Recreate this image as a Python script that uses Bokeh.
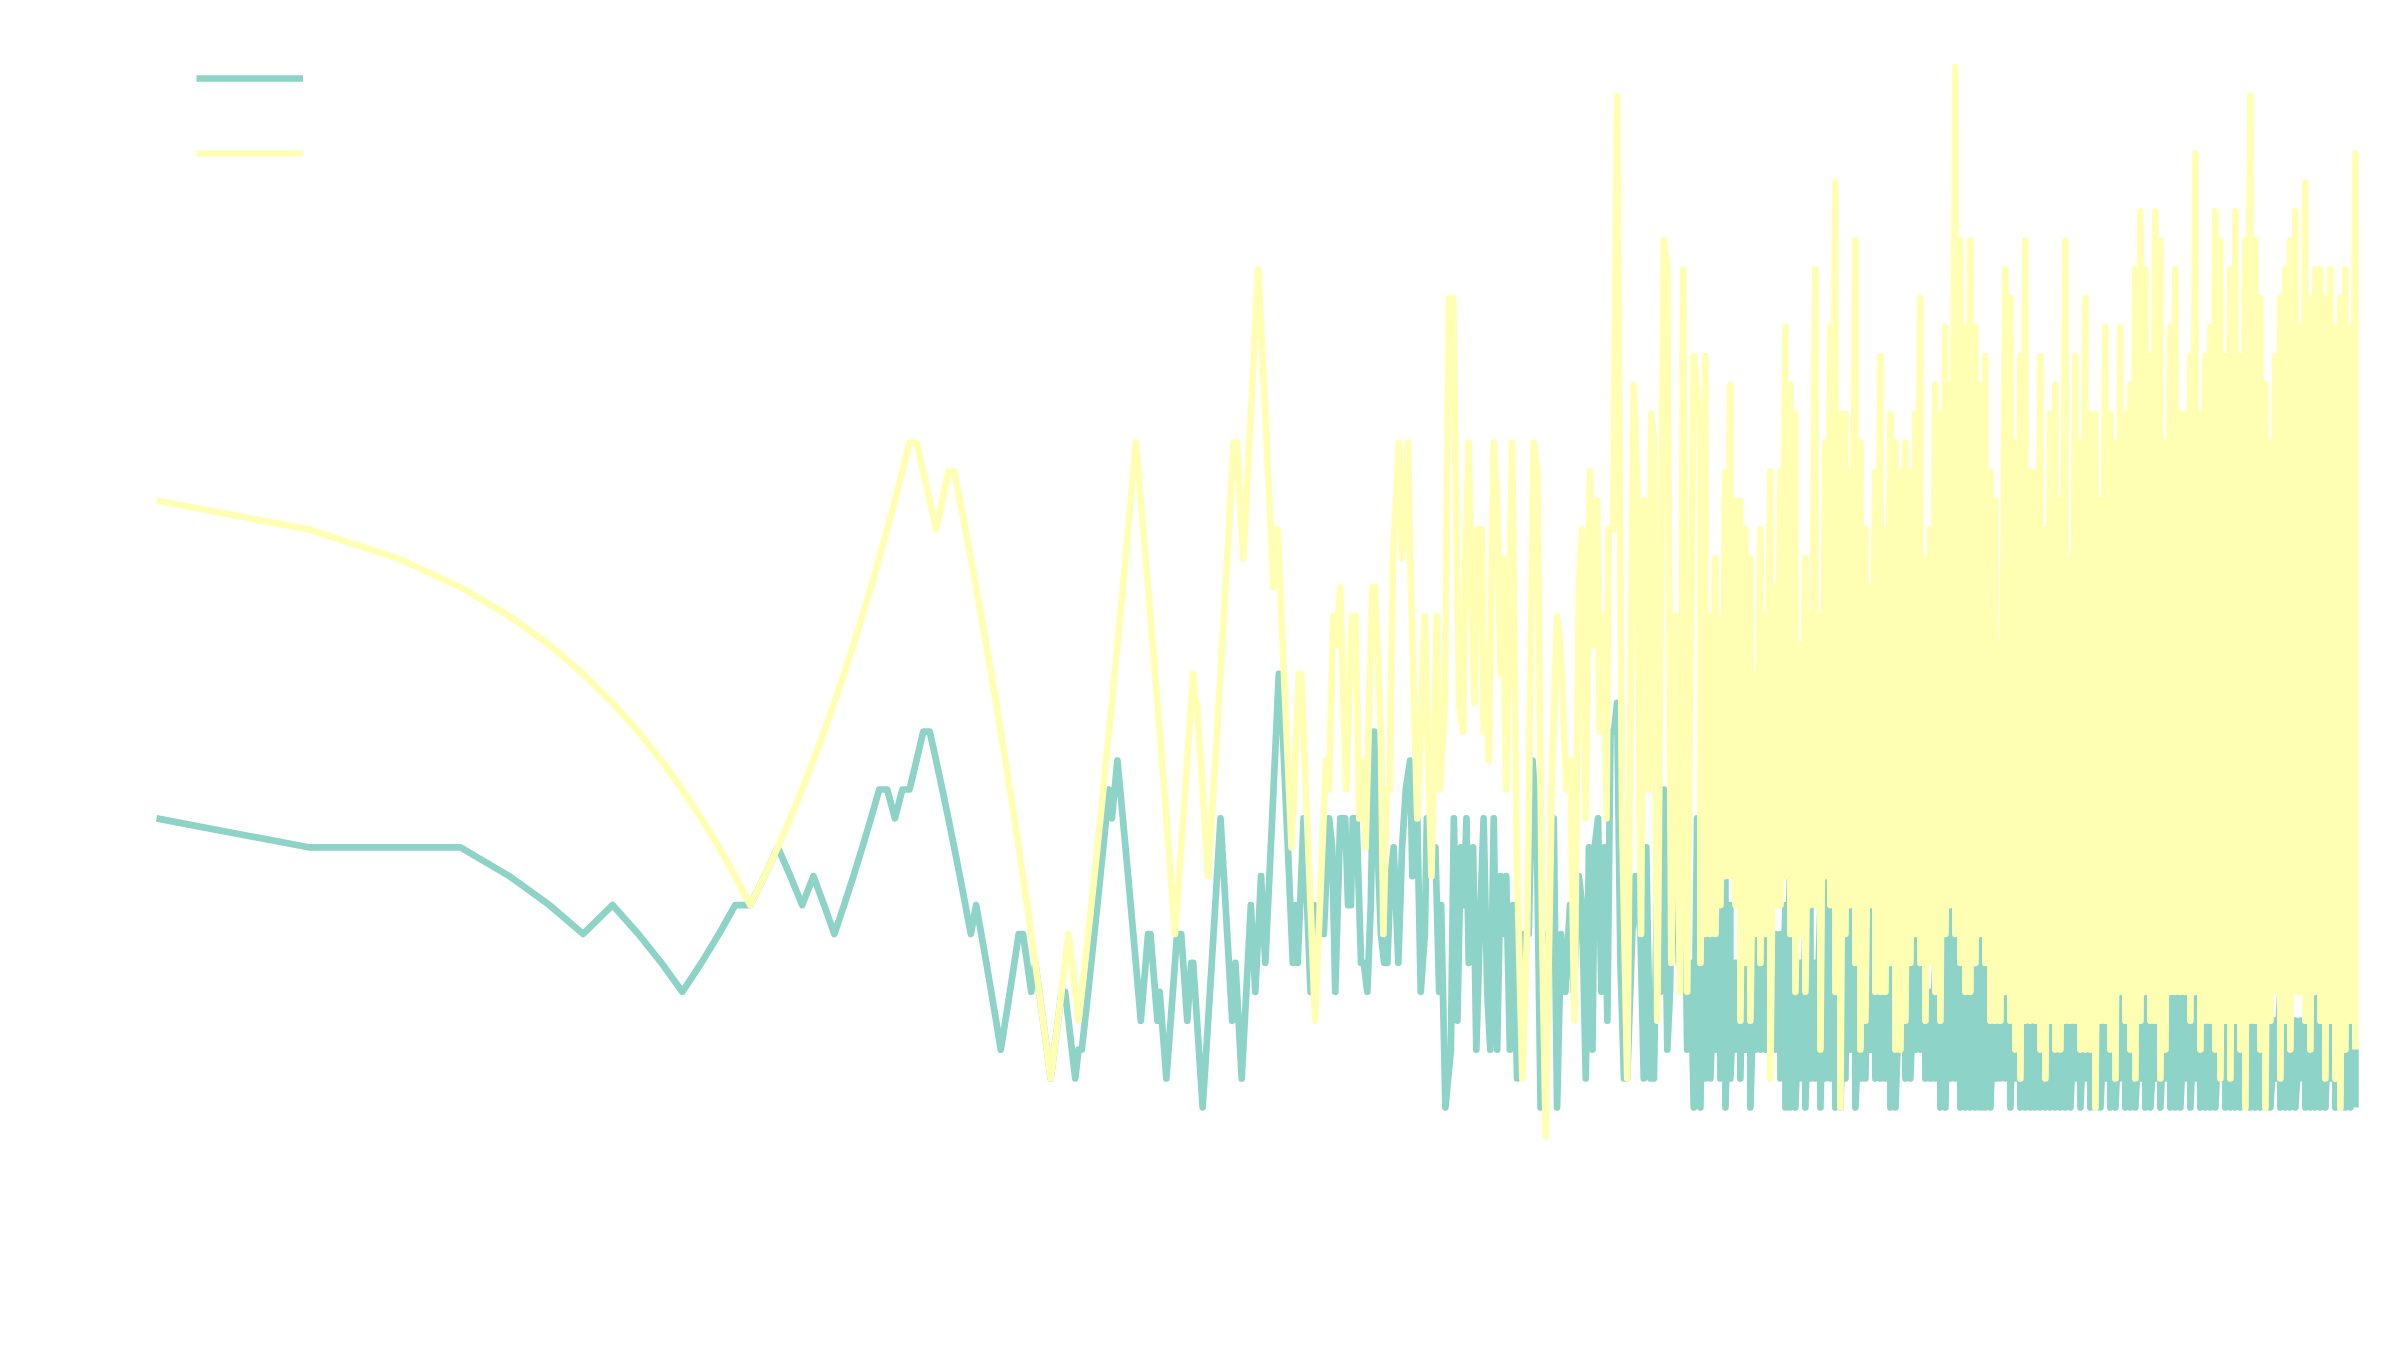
from bokeh.plotting import figure
from bokeh.models import Range1d, Legend, LegendItem
from bokeh.embed import file_html
from bokeh.resources import INLINE

TEAL = "#8dd3c7"
YELLOW = "#ffffb3"

# ---- values for n = 1 .. 197 (one value per integer n) ----
yellow_head = [22, 21, 20, 19, 18, 17, 16, 15, 14, 13, 12, 11, 10, 9, 8,
               9, 10, 11, 12, 13, 14, 15, 16, 17, 18, 19, 20, 21, 22, 23, 24,
               24, 23, 22, 21, 22, 23, 23,
               22, 21, 20, 19, 18, 17, 16, 15, 14, 13, 12, 11, 10, 9, 8, 7, 6, 5, 4, 3, 2,
               3, 4, 5, 6, 7,
               6, 5, 4,
               5, 6, 7, 8, 9, 10, 11, 12, 13, 14, 15, 16, 17, 18, 19, 20, 21, 22, 23, 24,
               23, 22, 21, 20, 19, 18, 17, 16, 15, 14, 13, 12, 11, 10, 9, 8, 7,
               8, 9, 10, 11, 12, 13, 14, 15, 16,
               15, 15, 14, 13, 12, 11, 10, 9,
               10, 11, 12, 13, 14, 15, 16, 17, 18, 19, 20, 21, 22, 23, 24,
               24, 24, 23, 22, 21, 20,
               21, 22, 23, 24, 25, 26, 27, 28, 29, 30,
               29, 28, 27, 26, 25, 24, 23, 22, 21, 20, 19,
               20, 21, 21,
               20, 19, 18, 17, 16, 15, 14, 13, 12, 11, 10,
               11, 12, 13, 14, 15, 16,
               16, 16,
               15, 14, 13, 12, 11, 10, 9, 8, 7, 6, 5, 4]

teal_head = [11, 10, 10, 10, 9, 8, 7, 8, 7, 6, 5, 6, 7, 8, 8,
             9, 10, 9, 8, 9, 8, 7, 8, 9, 10, 11, 12, 12, 11, 12, 12, 13, 14, 14,
             13, 12, 11, 10, 9, 8, 7, 8, 7, 6, 5, 4, 3,
             4, 5, 6, 7, 7, 6, 5, 6,
             5, 4, 3, 2, 3, 4, 5, 5, 4, 3, 2, 3, 3,
             4, 5, 6, 7, 8, 9, 10, 11, 12, 11, 12, 13,
             12, 11, 10, 9, 8, 7, 6, 5, 4,
             5, 6, 7, 7, 6, 5, 4, 5, 4, 3, 2,
             3, 4, 5, 6, 7, 7, 7, 6, 5, 4, 5, 6, 6, 5, 4, 3, 2, 1,
             2, 3, 4, 5, 6, 7, 8, 9, 10, 11,
             10, 9, 8, 7, 6, 5, 4,
             5, 6, 5, 4, 3, 2,
             3, 4, 5, 6, 7, 8, 7, 6, 5,
             6, 7, 8, 9, 8, 7, 6,
             7, 8, 9, 10, 11, 12, 13, 14, 15, 16, 16,
             15, 14, 13, 12, 11, 10, 9, 8, 7, 6,
             7, 8, 7, 6, 7, 8, 9, 10, 11,
             10, 9, 8, 7, 6, 5, 6, 7, 8, 7]

# ---- turning points for n ~ 200 .. 1140 ----
yellow_mid_n = [207, 210, 214, 217, 221, 227, 233, 237, 241, 244, 248, 256, 259, 266, 269,
                273, 277, 281, 289, 293, 301, 304, 314, 319, 325, 329, 335, 343, 348, 356,
                363, 370, 380, 387, 391, 397, 403, 408, 413, 422, 425, 429, 435, 445, 452,
                459, 464, 471, 484, 494, 507, 518, 534, 543, 555, 564, 581, 594, 603, 620,
                631, 643, 656, 666, 677, 690, 703, 713, 722, 733, 744, 752, 767, 781, 799,
                818, 842, 855, 871, 882, 902, 913, 924, 938, 967, 982, 1000, 1020, 1040, 1056,
                1075, 1108, 1134]
yellow_mid_v = [13, 12, 18, 17, 19, 12, 18, 18, 11, 13, 10, 19, 19, 14, 7,
                12, 12, 20, 24, 20, 24, 20, 11, 14, 18, 14, 9, 18, 12, 15,
                29, 29, 15, 14, 20, 24, 18, 15, 21, 21, 14, 17, 13, 24, 22,
                16, 20, 12, 24, 10, 2, 7, 24, 23, 7, 0, 13, 18, 17, 12,
                13, 4, 19, 21, 11, 23, 17, 22, 14, 18, 11, 21, 21, 36, 11,
                2, 26, 23, 7, 22, 12, 25, 24, 4, 31, 30, 6, 18, 5, 30,
                5, 27, 25]

teal_mid_n = [202, 205, 210, 213, 216, 221, 226, 229, 232, 234, 238, 241, 243, 246, 250,
              254, 258, 262, 266, 270, 274, 278, 282, 288, 293, 298, 304, 307, 314, 319,
              325, 328, 334, 341, 347, 350, 357, 366, 371, 377, 383, 388, 393, 397, 405,
              411, 419, 425, 432, 438, 445, 452, 459, 466, 471, 479, 486, 495, 510, 522,
              531, 541, 551, 559, 568, 576, 585, 594, 605, 617, 630, 641, 656, 666, 677,
              687, 698, 705, 716, 727, 738, 747, 758, 770, 781, 793, 806, 818, 837, 849,
              869, 882, 892, 909, 924, 938, 952, 967, 982, 994, 1012, 1035, 1059, 1075, 1092,
              1108, 1125]
teal_mid_v = [7, 7, 11, 10, 5, 11, 11, 8, 8, 11, 11, 8, 6, 6, 5,
              8, 14, 10, 7, 6, 6, 9, 10, 6, 10, 12, 13, 9, 11, 5,
              7, 11, 10, 10, 5, 8, 1, 3, 11, 4, 10, 8, 11, 6, 10,
              3, 8, 11, 5, 3, 11, 3, 9, 7, 9, 3, 8, 2, 7, 7,
              13, 11, 1, 7, 4, 8, 11, 1, 7, 5, 8, 5, 9, 8, 2,
              10, 3, 10, 11, 5, 10, 4, 14, 14, 15, 6, 2, 2, 7, 9,
              7, 2, 10, 2, 2, 9, 5, 12, 3, 5, 12, 6, 12, 3, 6,
              1, 11]

# ---- dense part (n ~ 1140 .. 22700): high / low reached near each n ----
dense_n = [1142, 1168, 1195, 1223, 1251, 1280, 1309, 1340, 1370, 1402, 1434, 1467, 1501, 1536,
           1571, 1608, 1645, 1683, 1721, 1761, 1802, 1843, 1886, 1929, 1974, 2019, 2066, 2113,
           2162, 2212, 2263, 2315, 2369, 2423, 2479, 2536, 2595, 2655, 2716, 2779, 2843, 2908,
           2975, 3044, 3114, 3186, 3259, 3334, 3411, 3490, 3571, 3653, 3737, 3823, 3911, 4002,
           4094, 4188, 4285, 4384, 4485, 4588, 4694, 4802, 4913, 5026,
           5143, 5262, 5383, 5507, 5634, 5764, 5897, 6033, 6172, 6314, 6460, 6609, 6761, 6917,
           7077, 7240, 7407, 7578, 7752, 7931, 8114, 8301, 8493, 8688, 8889, 9094, 9303, 9518,
           9738, 9962, 10192, 10427, 10667, 10913, 11165, 11422, 11686, 11955, 12231, 12513,
           12802, 13097, 13399, 13708, 14024, 14347, 14678, 15017, 15363, 15717, 16080, 16450,
           16830, 17218, 17614, 18021, 18436, 18862, 19297, 19742, 20197, 20663, 21139, 21627,
           22126, 22636]

yellow_hi = [25, 27, 18, 20, 18, 23, 26, 22, 22, 21, 20, 16, 21, 18, 23, 19, 23, 28, 26, 25,
             17, 20, 18, 30, 18, 24, 28, 33, 25, 25, 23, 31, 24, 21, 19, 23, 27, 21, 25, 24,
             23, 24, 23, 25, 29, 20, 21, 26, 25, 28, 26, 37, 31, 28, 31, 28, 26, 27, 23, 22,
             17, 30, 29, 24, 27, 31,
             23, 23, 27, 21, 25, 26, 22, 31, 20, 27, 24, 29, 25, 25, 22, 28, 25, 24, 28, 25,
             26, 30, 32, 30, 27, 32, 31, 24, 28, 30, 25, 25, 27, 34, 25, 27, 28, 32, 31, 27,
             30, 32, 27, 31, 36, 31, 29, 26, 24, 27, 29, 30, 31, 32, 28, 33, 29, 30, 30, 29,
             30, 28, 29, 30, 28, 34]
yellow_lo = [6, 7, 7, 7, 8, 9, 9, 8, 4, 6, 4, 7, 6, 7, 2, 8, 8, 9, 7, 5,
             7, 5, 8, 8, 3, 9, 8, 5, 1, 7, 8, 6, 3, 4, 8, 5,
             5, 5, 6, 3, 3, 4, 6, 7, 6, 4, 6, 5, 4, 7, 8, 7, 6, 5, 5, 6,
             7, 6, 4, 4, 4, 5, 4, 3, 2, 4,
             4, 4, 3, 2, 4, 3, 3, 4, 4, 4, 3, 3, 3, 1, 4, 4, 3, 2, 5, 4,
             3, 2, 4, 5, 4, 4, 2, 3, 5, 5, 5, 5, 4, 5, 3, 4, 4, 3, 2, 4,
             2, 4, 3, 1, 4, 4, 3, 1, 4, 5, 2, 4, 3, 5, 5, 4, 3, 5, 4, 2,
             4, 2, 1, 3, 4, 3]

teal_hi = [11, 15, 7, 7, 8, 10, 8, 6, 6, 10, 8, 7, 8, 9, 10, 7, 7, 8, 10, 7,
           6, 7, 8, 6, 8, 9, 8, 13, 6, 7, 14, 8, 5, 6, 11, 8, 7, 6, 11, 7,
           6, 5, 7, 7, 7, 6, 5, 6, 7, 8, 10, 9, 13, 7, 7, 8, 7, 10, 7, 6,
           6, 7, 7, 8, 6, 6,
           5, 6, 8, 5, 4, 5, 4, 5, 5, 5, 5, 5, 4, 5, 5, 5, 5, 5, 5, 7,
           5, 7, 5, 5, 5, 4, 5, 5, 5, 6, 5, 5, 6, 5, 5, 5, 6, 5, 5, 5,
           4, 5, 5, 4, 5, 5, 5, 4, 4, 4, 5, 8, 5, 4, 4, 4, 5, 5, 4, 5,
           6, 5, 5, 5, 4, 3]
teal_lo = [1, 2, 2, 3, 2, 1, 2, 3, 2, 3, 1, 3, 3, 3, 4, 3, 2, 1, 1, 1,
           2, 1, 2, 2, 1, 2, 2, 1, 1, 2, 3, 1, 2, 2, 3, 2,
           2, 2, 1, 1, 3, 2, 2, 3, 3, 2, 2, 2, 1, 1, 2, 2, 1, 1, 1, 1,
           1, 1, 1, 2, 2, 2, 1, 2, 1, 1,
           1, 1, 1, 1, 1, 1, 1, 1, 1, 2, 1, 2, 1, 1, 1, 2, 1, 1, 2, 1,
           1, 1, 2, 1, 1, 2, 1, 2, 1, 1, 1, 2, 1, 2, 1, 1, 1, 1, 2, 1,
           1, 1, 1, 2, 1, 1, 1, 1, 1, 2, 1, 1, 1, 1, 2, 1, 1, 1, 1, 1,
           2, 1, 1, 1, 1, 1]


def build(head, mid_n, mid_v, grid_n, hi, lo):
    xs = list(range(1, len(head) + 1)) + list(mid_n)
    ys = list(head) + list(mid_v)
    for n, h, l in zip(grid_n, hi, lo):
        xs += [n, n]
        ys += [h, l]
    return xs, ys


tx, ty = build(teal_head, teal_mid_n, teal_mid_v, dense_n, teal_hi, teal_lo)
yx, yy = build(yellow_head, yellow_mid_n, yellow_mid_v, dense_n, yellow_hi, yellow_lo)

p = figure(width=2384, height=1330, x_axis_type="log",
           x_range=Range1d(0.491, 25850), y_range=Range1d(-6.72, 39.30),
           output_backend="svg", toolbar_location=None,
           x_axis_location=None, y_axis_location=None, min_border=0)
p.xgrid.visible = False
p.ygrid.visible = False
p.outline_line_color = None
p.background_fill_color = "white"
p.border_fill_color = "white"

r_teal = p.line(tx, ty, line_color=TEAL, line_width=6.7, line_join="round")
r_yel = p.line(yx, yy, line_color=YELLOW, line_width=6.7, line_join="round")

legend = Legend(items=[LegendItem(label=" ", renderers=[r_teal]),
                       LegendItem(label=" ", renderers=[r_yel])],
                location=(196, 1157), margin=0, padding=0, spacing=35,
                glyph_width=107, glyph_height=40, label_height=20,
                label_text_font_size="16px", label_text_color="white",
                border_line_color=None, background_fill_alpha=0)
p.add_layout(legend)

open("out.html", "w").write(file_html(p, INLINE))
